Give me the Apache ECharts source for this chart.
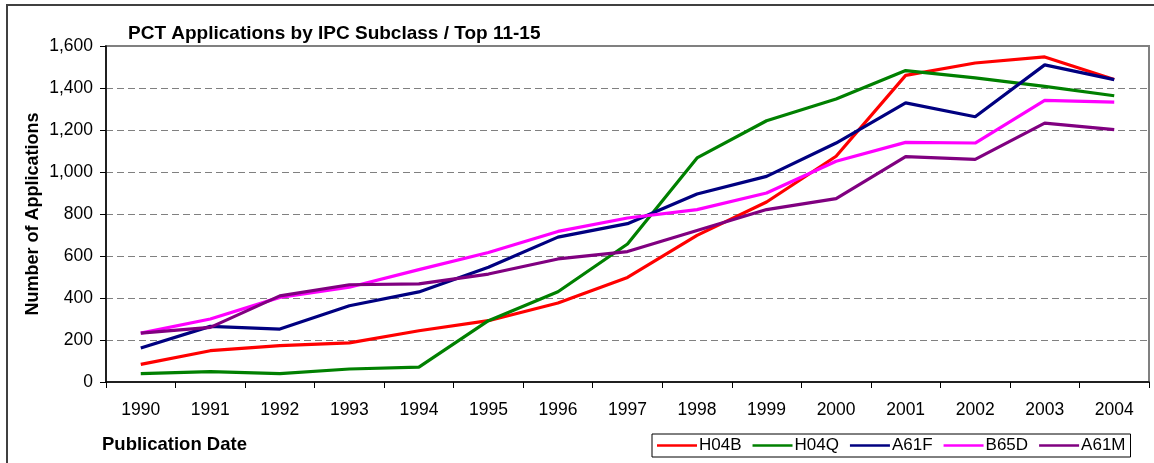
<!DOCTYPE html>
<html>
<head>
<meta charset="utf-8">
<script src="https://cdn.jsdelivr.net/npm/echarts@6/dist/echarts.min.js"></script>
<style>
html,body{margin:0;padding:0;background:#fff;}
#chart{width:1154px;height:463px;}
</style>
</head>
<body>
<div id="chart"></div>
<script>
var years = ['1990','1991','1992','1993','1994','1995','1996','1997','1998','1999','2000','2001','2002','2003','2004'];
var H04B = [84,149,173,186,244,292,376,498,698,857,1075,1460,1519,1548,1440];
var H04Q = [40,49,40,62,71,292,430,657,1067,1244,1348,1483,1448,1408,1363];
var A61F = [162,265,252,363,429,546,690,754,895,979,1138,1329,1263,1510,1440];
var B65D = [233,300,403,451,535,617,717,781,821,900,1051,1141,1138,1341,1333];
var A61M = [233,260,410,463,467,514,586,621,721,821,873,1073,1060,1233,1202];
var seriesNames = ['H04B','H04Q','A61F','B65D','A61M'];
var seriesColors = ['#FF0000','#008000','#000080','#FF00FF','#800080'];
var seriesData = [H04B,H04Q,A61F,B65D,A61M];

var FONT = 'Liberation Sans, Arial, sans-serif';
var chart = echarts.init(document.getElementById('chart'));
var option = {
  animation: false,
  backgroundColor: '#ffffff',
  textStyle: {fontFamily: FONT},
  title: [{
    text: 'PCT Applications by IPC Subclass / Top 11-15',
    left: 123, top: 19,
    textStyle: {fontFamily: FONT, fontSize: 19, fontWeight: 'bold', color: '#000'}
  },{
    text: 'Publication Date',
    left: 97, top: 430,
    textStyle: {fontFamily: FONT, fontSize: 18.5, fontWeight: 'bold', color: '#000'}
  }],
  graphic: [{
    type: 'rect', silent: true, z: -1,
    shape: {x: 7, y: 5, width: 1300, height: 600},
    style: {fill: 'none', stroke: '#404040', lineWidth: 2}
  }],
  legend: {
    left: 652, top: 434,
    orient: 'horizontal',
    itemWidth: 40, itemHeight: 14, itemGap: 11,
    padding: [3, 5, 3, 5],
    borderColor: '#000', borderWidth: 1,
    icon: 'path://M0,6 L40,6 L40,8.5 L0,8.5 Z',
    textStyle: {fontFamily: FONT, fontSize: 17, color: '#000', padding: [0,0,0,-3]},
    data: seriesNames
  },
  grid: {
    left: 106, right: 5, top: 46, bottom: 81,
    show: true, borderColor: '#808080', borderWidth: 2, backgroundColor: '#fff'
  },
  xAxis: {
    type: 'category',
    data: years,
    boundaryGap: true,
    axisLine: {lineStyle: {color: '#000', width: 1.5}},
    axisTick: {show: true, interval: 0, length: 6, lineStyle: {color: '#000'}},
    axisLabel: {interval: 0, margin: 19, fontSize: 17.5, color: '#000', fontFamily: FONT},
    splitLine: {show: false}
  },
  yAxis: {
    type: 'value',
    min: 0, max: 1600, interval: 200,
    name: 'Number of Applications',
    nameLocation: 'middle',
    nameGap: 64,
    nameMoveOverlap: false,
    nameTextStyle: {fontFamily: FONT, fontSize: 18, fontWeight: 'bold', color: '#000'},
    axisLine: {show: true, lineStyle: {color: '#000', width: 1.5}},
    axisTick: {show: true, length: 6, lineStyle: {color: '#000'}},
    axisLabel: {
      margin: 13, fontSize: 17.5, color: '#000', fontFamily: FONT,
      formatter: function (v) { return v.toString().replace(/\B(?=(\d{3})+(?!\d))/g, ','); }
    },
    splitLine: {show: true, lineStyle: {color: '#808080', type: [7, 4], width: 1}}
  },
  series: seriesNames.map(function (n, i) {
    return {
      name: n, type: 'line', data: seriesData[i],
      symbol: 'none', smooth: false,
      color: seriesColors[i],
      lineStyle: {color: seriesColors[i], width: 3.2}
    };
  })
};
chart.setOption(option);
</script>
</body>
</html>
